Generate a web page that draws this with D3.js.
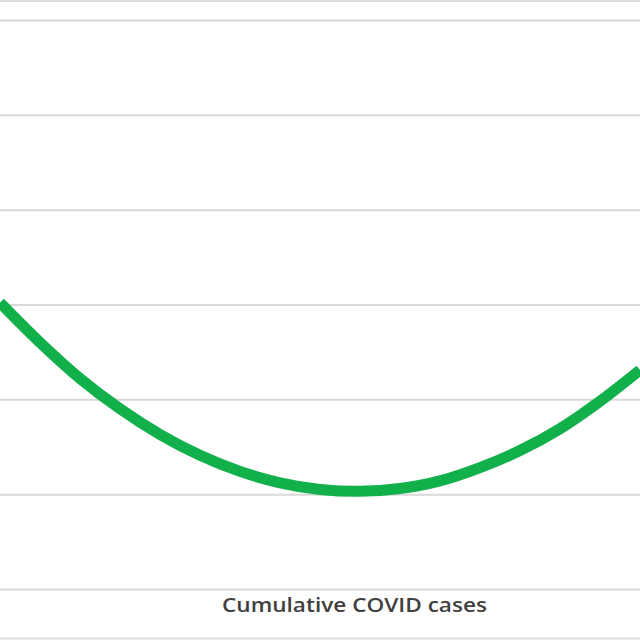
<!DOCTYPE html>
<html>
<head>
<meta charset="utf-8">
<script src="https://cdn.jsdelivr.net/npm/d3@7"></script>
<style>
  html, body { margin: 0; padding: 0; background: #ffffff; }
  svg { display: block; }
</style>
</head>
<body>
<div id="chart"></div>
<script>
// Data (x in arbitrary case units, y in gridline units)
const casesX = [0, 1, 2, 3, 4, 5, 6, 7, 8, 9, 10, 11, 12, 13, 14, 15, 16];
const outcomeY = [3.02, 2.60, 2.22, 1.90, 1.63, 1.41, 1.24, 1.12, 1.05, 1.03, 1.06, 1.14, 1.28, 1.46, 1.69, 1.98, 2.31];
const yTicks = [0, 1, 2, 3, 4, 5, 6];
const xTitle = "Cumulative COVID cases";

const W = 640, H = 640;
const svg = d3.select("#chart").append("svg")
  .attr("width", W).attr("height", H);

const x = d3.scaleLinear().domain([0, 16]).range([0, 640]);
const y = d3.scaleLinear().domain([0, 6]).range([589, 20]);

// frame lines (top / bottom of the cropped chart)
svg.append("line").attr("x1", 0).attr("x2", W).attr("y1", 1).attr("y2", 1)
  .attr("stroke", "#dcdcdc").attr("stroke-width", 2);
svg.append("line").attr("x1", 0).attr("x2", W).attr("y1", 638.5).attr("y2", 638.5)
  .attr("stroke", "#dcdcdc").attr("stroke-width", 2);

// gridlines via axis
const yAxis = d3.axisLeft(y).tickValues(yTicks).tickSize(-W).tickFormat("");
const g = svg.append("g").call(yAxis);
g.select(".domain").remove();
g.selectAll(".tick line").attr("stroke", "#d9d9d9").attr("stroke-width", 2);

// curve
const line = d3.line()
  .x((d, i) => x(casesX[i]))
  .y(d => y(d))
  .curve(d3.curveCatmullRom);

svg.append("path")
  .datum(outcomeY)
  .attr("d", line)
  .attr("fill", "none")
  .attr("stroke", "#12b04b")
  .attr("stroke-width", 11)
  .attr("stroke-linecap", "butt");

// x axis title
svg.append("text")
  .attr("x", 354.5).attr("y", 612)
  .attr("text-anchor", "middle")
  .attr("font-family", "'Open Sans', sans-serif")
  .attr("font-weight", 600)
  .attr("font-size", 20)
  .attr("textLength", 265)
  .attr("lengthAdjust", "spacingAndGlyphs")
  .attr("fill", "#404040")
  .text(xTitle);
</script>
</body>
</html>
